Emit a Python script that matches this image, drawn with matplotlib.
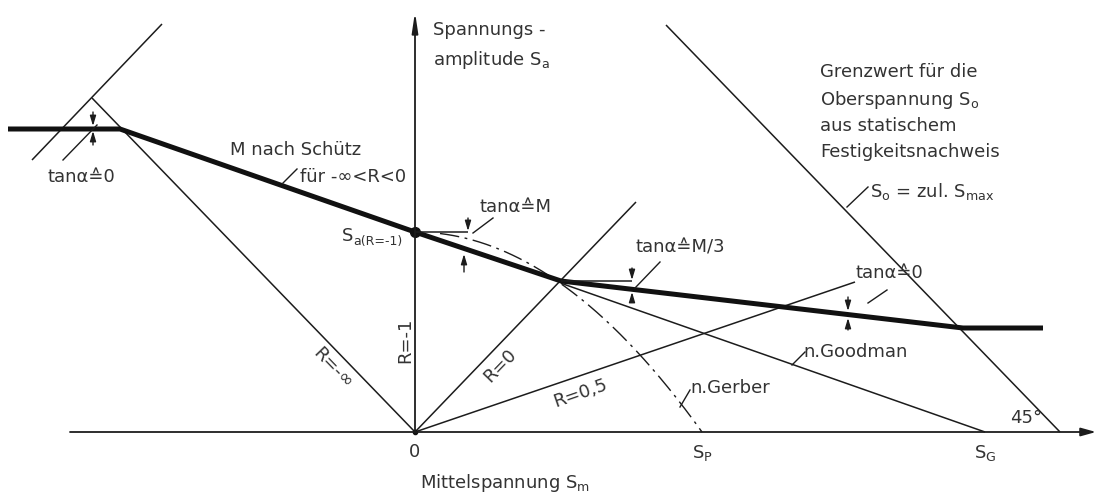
#!/usr/bin/env python3
"""Haigh-Diagramm: zulässige Spannungsamplitude über der Mittelspannung."""
import matplotlib.pyplot as plt
import numpy as np

plt.rcParams["font.family"] = ["DejaVu Sans"]
plt.rcParams["mathtext.fontset"] = "dejavusans"

ink = "#1c1c1c"
txt = "#333333"

# Kennwerte (Zeichnungseinheiten, Ursprung = Sm 0 / Sa 0)
sa_r_neg1 = 200          # Sa(R=-1)
s_p = 287                # Gerber-Nullstelle
s_g = 570                # Goodman-Nullstelle
s_max_top = (251, 407)   # Grenzgerade So = zul. Smax
s_max_foot = 645

# Grenzlinie nach Schütz (dicke Linie)
limit_sm = [-407, -295, 0, 146, 548, 628]
limit_sa = [303, 303, sa_r_neg1, 151, 104, 104]

# Strahlen konstanter Spannungsverhältnisse R
ray_names = ["R=-\u221e", "R=-1", "R=0", "R=0,5"]
ray_end_sm = [-323, 0, 221, 440]
ray_end_sa = [334, 420, 230, 150]

fig = plt.figure(figsize=(10.96, 4.97), dpi=100)
ax = fig.add_axes([0, 0, 1, 1])
ax.set_xlim(-415, 681)
ax.set_ylim(-65, 432)
ax.axis("off")

thin = dict(color=ink, lw=1.1, solid_capstyle="butt")

# Achsen mit Pfeilen
ax.annotate("", xy=(681, 0), xytext=(-345, 0),
            arrowprops=dict(arrowstyle="-|>,head_length=0.9,head_width=0.25",
                            color=ink, lw=1.3, shrinkA=0, shrinkB=0))
ax.annotate("", xy=(0, 420), xytext=(0, 0),
            arrowprops=dict(arrowstyle="-|>,head_length=1.2,head_width=0.18",
                            color=ink, lw=1.3, shrinkA=0, shrinkB=0))

# R-Strahlen (R=-1 liegt auf der Ordinate)
for name, xe, ye in zip(ray_names, ray_end_sm, ray_end_sa):
    if name != "R=-1":
        ax.plot([0, xe], [0, ye], **thin)

# Hilfslinie senkrecht zum Strahl R=-inf
ax.plot([-383, -253], [272, 408], **thin)

# Grenzgerade aus statischem Festigkeitsnachweis
ax.plot([s_max_top[0], s_max_foot], [s_max_top[1], 0], **thin)

# Goodman-Gerade ab Knickpunkt
g_slope = sa_r_neg1 / s_g
ax.plot([limit_sm[3], s_g], [sa_r_neg1 - g_slope * limit_sm[3], 0], **thin)

# Gerber-Parabel
sm = np.linspace(25, s_p, 200)
ax.plot(sm, sa_r_neg1 * (1 - (sm / s_p) ** 2), color=ink, lw=1.0,
        dashes=(14, 4, 2, 4))

# dicke Grenzlinie
ax.plot(limit_sm, limit_sa, color="#111111", lw=3.6, solid_joinstyle="round",
        solid_capstyle="butt")
ax.plot([0], [sa_r_neg1], "o", color="#111111", ms=7)
ax.plot([0], [0], "o", color="#111111", ms=3)

# waagerechte Tangenten für die Winkelangaben
ax.plot([0, 53], [sa_r_neg1, sa_r_neg1], **thin)
ax.plot([146, 217], [151, 151], **thin)


def mark(x, y0, y1):
    ax.annotate("", xy=(x, y1), xytext=(x, y0),
                arrowprops=dict(arrowstyle="-|>,head_length=0.6,head_width=0.18",
                                color=ink, lw=1.0, shrinkA=0, shrinkB=0))


mark(-322, 320, 306)
mark(-322, 287, 301)
mark(53, 214, 201)
mark(49, 160, 178)
mark(217, 164, 152)
mark(217, 130, 140)
mark(433, 135, 121)
mark(433, 102, 114)

# Hinweislinien
leaders = [((-352, 272), (-318, 307)), ((-132, 249), (-118, 263)),
           ((58, 199), (78, 214)), ((220, 144), (245, 170)),
           ((453, 129), (472, 142)), ((432, 225), (453, 245)),
           ((377, 67), (390, 80)), ((265, 25), (275, 42))]
for (xa, ya), (xb, yb) in leaders:
    ax.plot([xa, xb], [ya, yb], color=ink, lw=1.0)

fs = 13
kw = dict(color=txt, fontsize=fs, va="center", ha="left")

ax.text(18, 402, "Spannungs -", **kw)
ax.text(18, 372, r"amplitude S$_\mathregular{a}$", **kw)
ax.text(405, 360, "Grenzwert für die", **kw)
ax.text(405, 332, r"Oberspannung S$_\mathregular{o}$", **kw)
ax.text(405, 306, "aus statischem", **kw)
ax.text(405, 280, "Festigkeitsnachweis", **kw)
ax.text(455, 240, r"S$_\mathregular{o}$ = zul. S$_\mathregular{max}$", **kw)
ax.text(-185, 282, "M nach Schütz", **kw)
ax.text(-115, 255, "für -\u221e<R<0", **kw)
ax.text(-368, 255, "tan\u03b1\u22590", **kw)
ax.text(-73, 196, "S", **kw)
ax.text(-62, 190, "a(R=-1)", color=txt, fontsize=9, va="center", ha="left")
ax.text(65, 225, "tan\u03b1\u2259M", **kw)
ax.text(220, 185, "tan\u03b1\u2259M/3", **kw)
ax.text(440, 159, "tan\u03b1\u22590", **kw)
ax.text(388, 80, "n.Goodman", **kw)
ax.text(275, 44, "n.Gerber", **kw)
ax.text(595, 14, "45°", **kw)

kc = dict(color=txt, fontsize=fs, va="center", ha="center")
ax.text(0, -20, "0", **kc)
ax.text(287, -21, r"S$_\mathregular{P}$", **kc)
ax.text(570, -21, r"S$_\mathregular{G}$", **kc)
ax.text(5, -51, r"Mittelspannung S$_\mathregular{m}$", **kw)

# Beschriftung der Strahlen
ax.text(-82, 64, "R=-\u221e", rotation=-46, **kc)
ax.text(-10, 92, "R=-1", rotation=90, **kc)
ax.text(85, 66, "R=0", rotation=46, **kc)
ax.text(165, 39, "R=0,5", rotation=19, **kc)

fig.savefig("out.png", dpi=100)
